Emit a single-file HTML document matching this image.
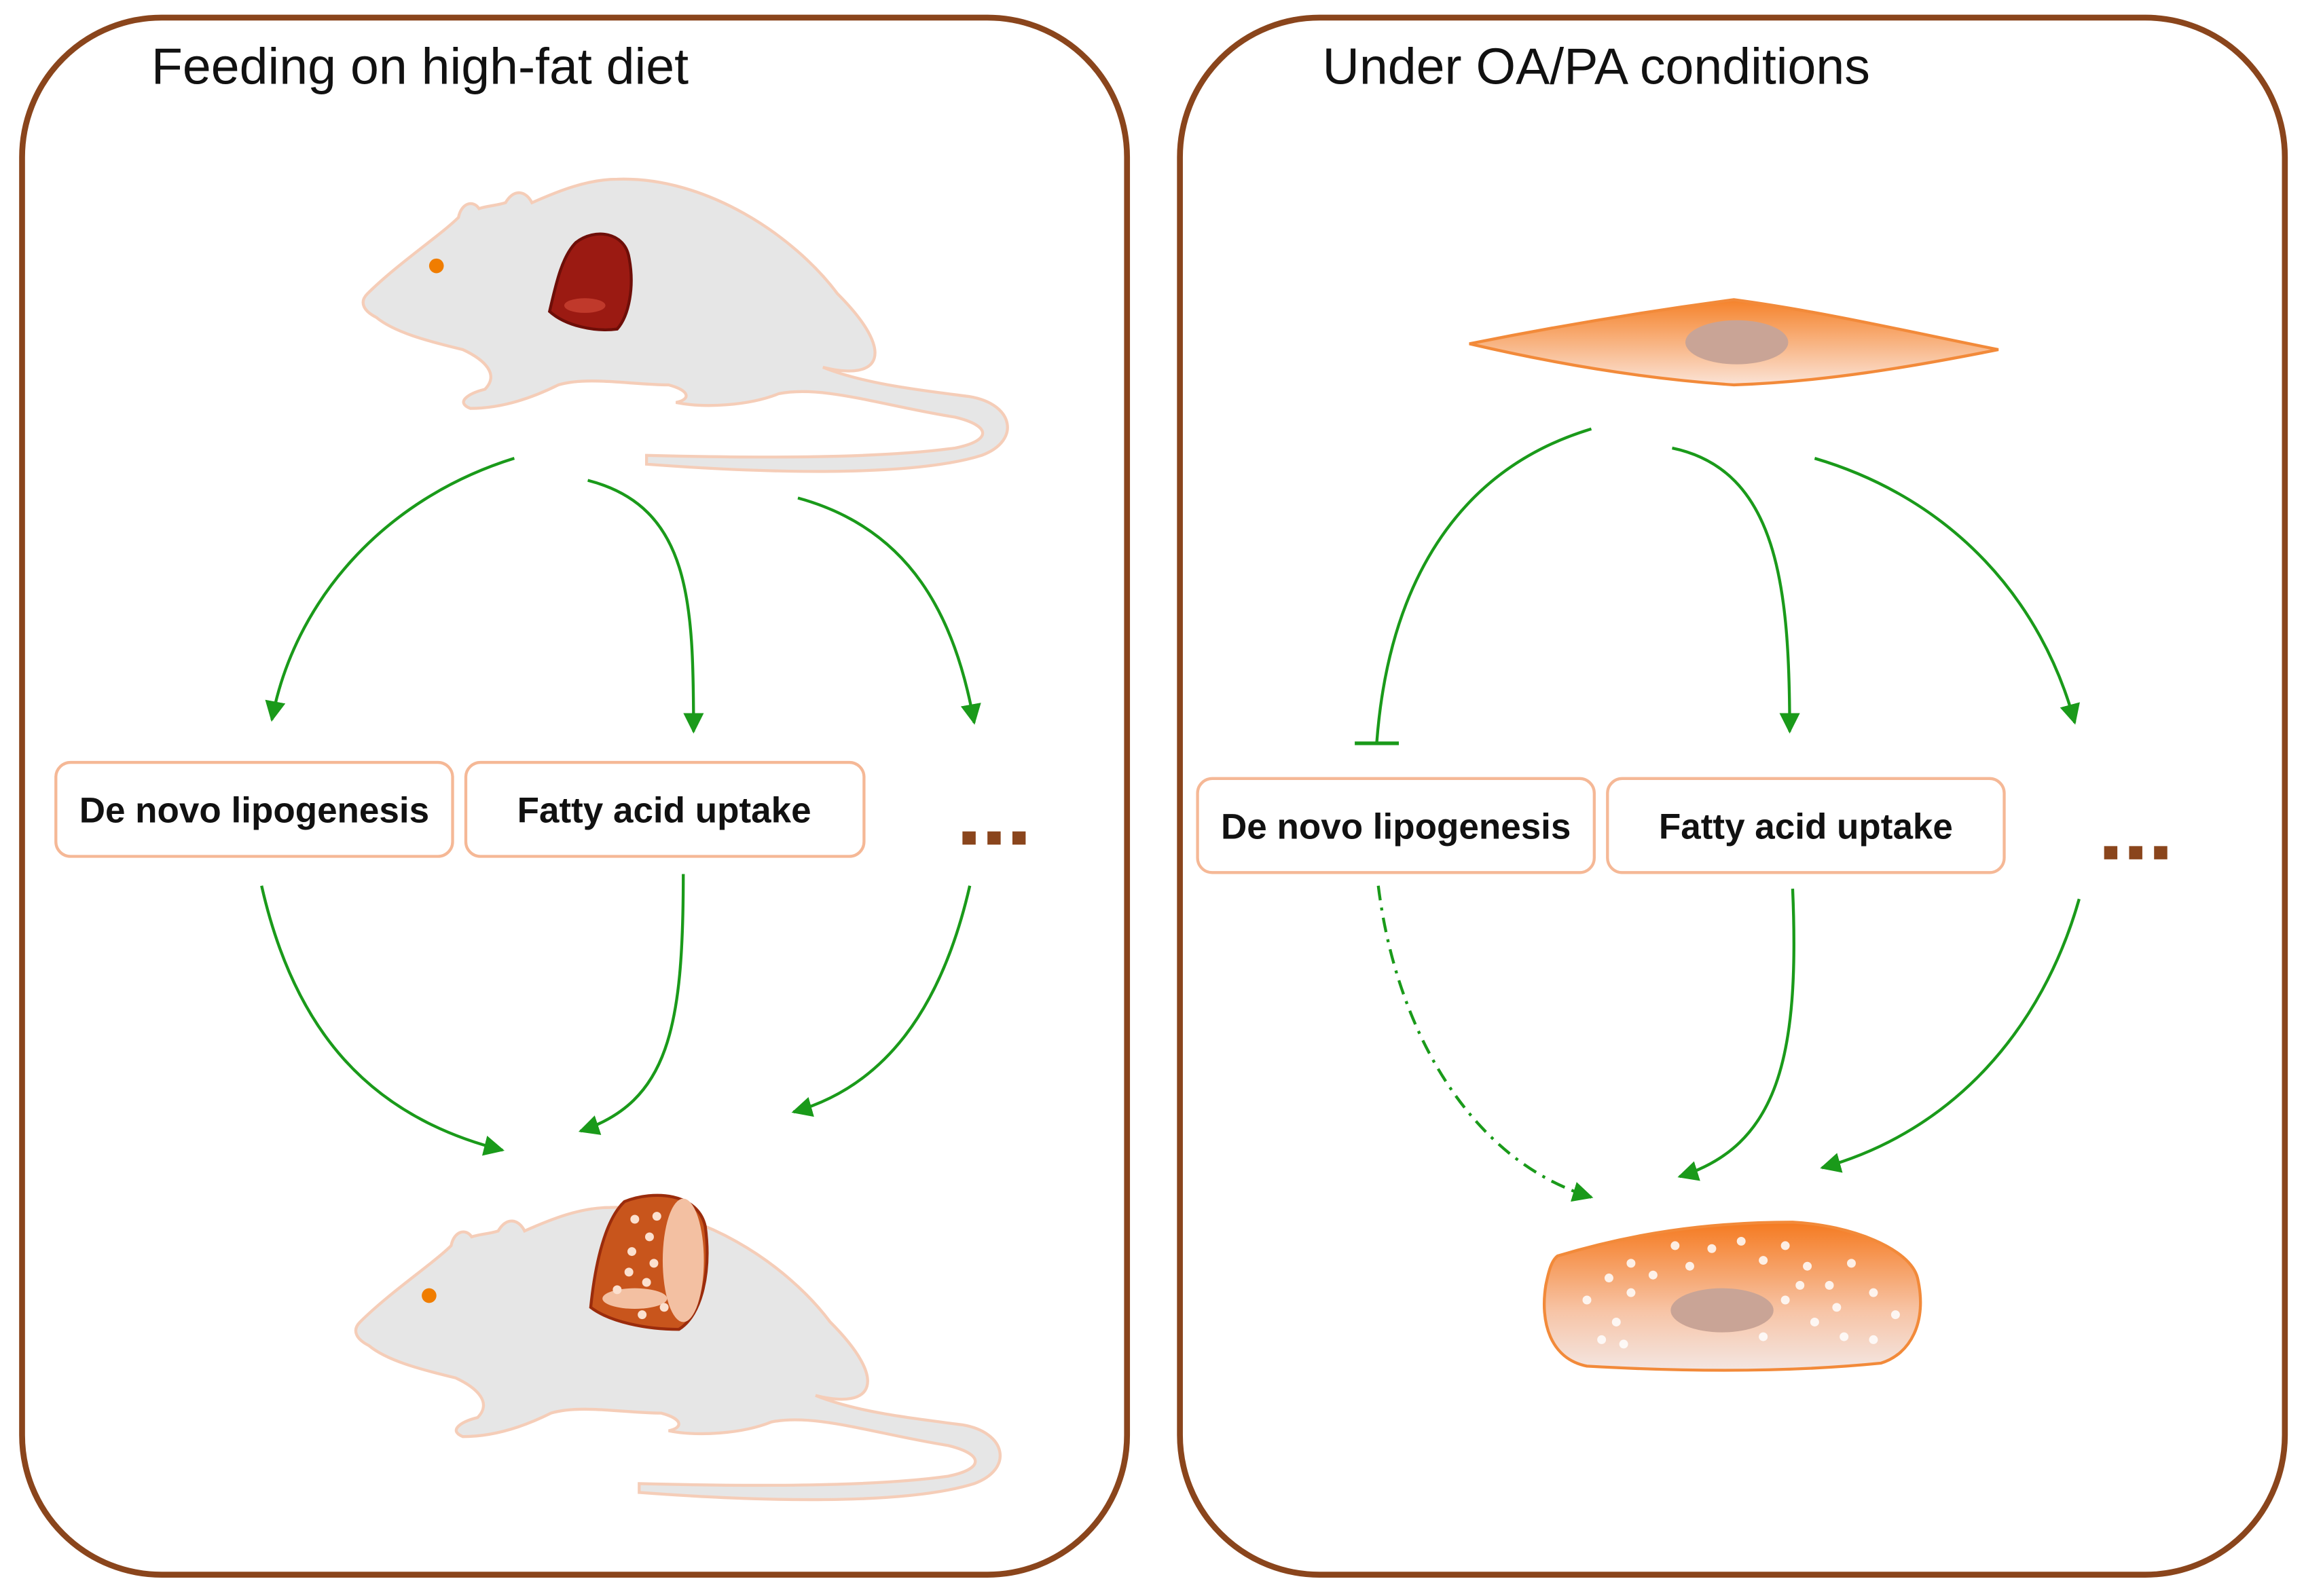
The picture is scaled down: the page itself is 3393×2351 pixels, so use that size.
<!DOCTYPE html>
<html><head><meta charset="utf-8"><style>
html,body{margin:0;padding:0;background:#fff;}
svg{display:block;}
</style></head><body>
<svg width="3393" height="2351" viewBox="0 0 1568 1086.5" xmlns="http://www.w3.org/2000/svg" font-family="Liberation Sans, sans-serif">
<defs>
<marker id="ah2" viewBox="0 0 10 10" refX="9" refY="5" markerWidth="14" markerHeight="14" orient="auto" markerUnits="userSpaceOnUse">
<path d="M0,0 L10,5 L0,10 z" fill="#1a9a1a"/></marker>
<linearGradient id="cg" x1="0" y1="0" x2="0" y2="1"><stop offset="0" stop-color="#f5822a"/><stop offset="1" stop-color="#fbe3d6"/></linearGradient>
<linearGradient id="cg2" x1="0" y1="0" x2="0" y2="1"><stop offset="0" stop-color="#f57a20"/><stop offset="0.6" stop-color="#f7c4a6"/><stop offset="1" stop-color="#f3e6e2"/></linearGradient>
<g id="rat">
<path d="M440,316 C520,322 620,325 668,310 C695,300 690,275 660,270 C630,266 590,262 560,250 C600,260 610,240 570,200 C540,160 480,120 420,122 C400,122 380,130 362,138 C358,130 350,128 344,138 C338,140 332,140 326,142 C322,136 314,138 312,148 C300,160 270,180 250,200 C244,206 248,212 256,216 C268,226 290,232 315,238 C330,245 340,255 330,265 C318,268 310,274 320,278 C340,278 360,272 380,262 C400,256 430,262 455,262 C470,266 470,272 460,274 C480,278 510,276 530,268 C560,262 600,276 650,284 C675,290 675,300 650,305 C600,312 520,312 440,310 Z" fill="#e6e6e6" stroke="#f5cdb8" stroke-width="2"/>
</g>
</defs>
<rect x="15" y="12" width="752" height="1060" rx="95" fill="none" stroke="#8a451c" stroke-width="4"/>
<rect x="803" y="12" width="752" height="1060" rx="95" fill="none" stroke="#8a451c" stroke-width="4"/>
<text x="103" y="57" font-size="34.8" fill="#111">Feeding on high-fat diet</text>
<text x="900" y="57" font-size="34.8" fill="#111">Under OA/PA conditions</text>

<use href="#rat"/>
<circle cx="297" cy="181" r="5" fill="#f07d00"/>
<path d="M392,165 C405,155 425,158 428,175 C432,195 428,215 420,224 C405,226 385,222 374,212 C378,195 382,175 392,165 Z" fill="#9b1a12" stroke="#6e0e08" stroke-width="2"/>
<ellipse cx="398" cy="208" rx="14" ry="5" fill="#c0392b"/>
<use href="#rat" transform="translate(-5,700)"/>
<circle cx="292" cy="882" r="5" fill="#f07d00"/>
<path d="M425,818 C445,810 475,812 480,835 C484,865 478,895 462,905 C440,905 415,900 402,890 C405,860 412,830 425,818 Z" fill="#c8551c" stroke="#9b2c0c" stroke-width="2"/>
<ellipse cx="465" cy="858" rx="14" ry="42" fill="#f3c0a2"/>
<ellipse cx="432" cy="884" rx="22" ry="7" fill="#f3c0a2"/>
<g fill="#fbe0cf">
<circle cx="432" cy="830" r="3"/><circle cx="442" cy="842" r="3"/><circle cx="430" cy="852" r="3"/><circle cx="445" cy="860" r="3"/><circle cx="428" cy="866" r="3"/><circle cx="440" cy="873" r="3"/><circle cx="452" cy="890" r="3"/><circle cx="420" cy="878" r="3"/><circle cx="447" cy="828" r="3"/><circle cx="437" cy="895" r="3"/>
</g>

<path d="M1000,234 C1060,222 1120,212 1180,204 C1240,212 1300,226 1360,238 C1300,250 1240,260 1180,262 C1120,258 1060,248 1000,234 Z" fill="url(#cg)" stroke="#f28a3a" stroke-width="2"/>
<ellipse cx="1182" cy="233" rx="35" ry="15" fill="#c9a496"/>
<path d="M1060,855 C1110,840 1160,832 1220,832 C1260,834 1300,850 1305,870 C1312,900 1300,922 1280,928 C1220,934 1150,934 1080,930 C1055,925 1048,900 1052,875 C1054,865 1056,858 1060,855 Z" fill="url(#cg2)" stroke="#f28a3a" stroke-width="2"/>
<ellipse cx="1172" cy="892" rx="35" ry="15" fill="#c9a496"/>
<g fill="#fff" opacity="0.85">
<circle cx="1080" cy="885" r="3"/><circle cx="1095" cy="870" r="3"/><circle cx="1110" cy="860" r="3"/><circle cx="1125" cy="868" r="3"/><circle cx="1140" cy="848" r="3"/><circle cx="1150" cy="862" r="3"/><circle cx="1165" cy="850" r="3"/><circle cx="1185" cy="845" r="3"/><circle cx="1200" cy="858" r="3"/><circle cx="1215" cy="848" r="3"/><circle cx="1230" cy="862" r="3"/><circle cx="1245" cy="875" r="3"/><circle cx="1260" cy="860" r="3"/><circle cx="1275" cy="880" r="3"/><circle cx="1290" cy="895" r="3"/><circle cx="1215" cy="885" r="3"/><circle cx="1235" cy="900" r="3"/><circle cx="1255" cy="910" r="3"/><circle cx="1275" cy="912" r="3"/><circle cx="1225" cy="875" r="3"/><circle cx="1100" cy="900" r="3"/><circle cx="1090" cy="912" r="3"/><circle cx="1110" cy="880" r="3"/><circle cx="1200" cy="910" r="3"/><circle cx="1250" cy="890" r="3"/><circle cx="1105" cy="915" r="3"/>
</g>

<g fill="#fff" stroke="#f5b896" stroke-width="2">
<rect x="38" y="519" width="270" height="64" rx="10"/>
<rect x="317" y="519" width="271" height="64" rx="10"/>
<rect x="815" y="530" width="270" height="64" rx="10"/>
<rect x="1094" y="530" width="270" height="64" rx="10"/>
</g>
<g font-size="24.5" font-weight="bold" fill="#111" text-anchor="middle">
<text x="173" y="560">De novo lipogenesis</text>
<text x="452" y="560">Fatty acid uptake</text>
<text x="950" y="571">De novo lipogenesis</text>
<text x="1229" y="571">Fatty acid uptake</text>
</g>
<g fill="#8a451c">
<rect x="655" y="566" width="9" height="9"/><rect x="672" y="566" width="9" height="9"/><rect x="689" y="566" width="9" height="9"/>
<rect x="1432" y="576" width="9" height="9"/><rect x="1449" y="576" width="9" height="9"/><rect x="1466" y="576" width="9" height="9"/>
</g>

<g fill="none" stroke="#1a9a1a" stroke-width="2" marker-end="url(#ah2)">
<path d="M350,312 C260,340 200,410 185,490"/>
<path d="M400,327 C470,345 472,410 472,498"/>
<path d="M543,339 C620,360 650,420 663,492"/>
<path d="M178,603 C200,700 250,760 342,783"/>
<path d="M465,595 C465,700 455,750 395,770"/>
<path d="M660,603 C640,690 600,740 540,757"/>
<path d="M1138,305 C1210,320 1218,400 1218,498"/>
<path d="M1235,312 C1330,340 1390,410 1412,492"/>
<path d="M938,603 C950,700 1000,790 1083,815" stroke-dasharray="10,5,2,5"/>
<path d="M1220,605 C1225,720 1210,780 1143,801"/>
<path d="M1415,612 C1390,700 1330,770 1240,795"/>
</g>
<path d="M1083,292 C990,320 945,400 937,505" fill="none" stroke="#1a9a1a" stroke-width="2"/>
<line x1="922" y1="506" x2="952" y2="506" stroke="#1a9a1a" stroke-width="2.5"/>
</svg>
</body></html>
